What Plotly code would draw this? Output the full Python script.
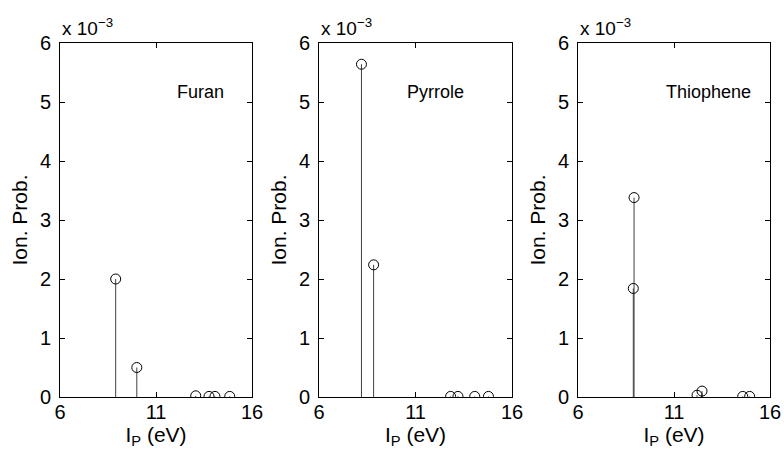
import plotly.graph_objects as go

# Ionization energies (eV) and ionization probabilities (units of 1e-3)
furan_ip = [8.9, 10.0, 13.07, 13.76, 14.07, 14.84]
furan_prob = [2.0, 0.5, 0.02, 0.01, 0.01, 0.01]

pyrrole_ip = [8.2, 8.83, 12.82, 13.2, 14.07, 14.78]
pyrrole_prob = [5.64, 2.24, 0.01, 0.01, 0.01, 0.01]

thiophene_ip = [8.92, 8.88, 12.2, 12.46, 14.58, 14.94]
thiophene_prob = [3.38, 1.84, 0.03, 0.1, 0.01, 0.01]

molecules = ["Furan", "Pyrrole", "Thiophene"]
series = [(furan_ip, furan_prob), (pyrrole_ip, pyrrole_prob), (thiophene_ip, thiophene_prob)]
label_x = [13.3, 12.05, 12.8]
label_y = 5.17

x_ticks = [6, 11, 16]
y_ticks = [0, 1, 2, 3, 4, 5, 6]

FONT = "Liberation Sans, Arial, sans-serif"
W, H = 784, 454
ML, MR, MT, MB = 60, 14, 43, 57
PW = W - ML - MR
# horizontal pixel extents of each panel's plotting box
panel_px = [(60, 252), (319, 512), (578, 770)]

fig = go.Figure()
layout = dict(
    width=W, height=H,
    margin=dict(l=ML, r=MR, t=MT, b=MB, pad=0),
    paper_bgcolor="white", plot_bgcolor="white",
    showlegend=False,
    font=dict(family=FONT, size=18, color="black"),
)

annotations = []
for i, (name, (ip, prob)) in enumerate(zip(molecules, series)):
    n = "" if i == 0 else str(i + 1)
    xa, ya = "x" + n, "y" + n
    # stems from the baseline up to each value
    sx, sy = [], []
    for xv, yv in zip(ip, prob):
        sx += [xv, xv, None]
        sy += [0, yv, None]
    fig.add_trace(go.Scatter(x=sx, y=sy, mode="lines",
                             line=dict(color="#404040", width=1),
                             xaxis=xa, yaxis=ya, hoverinfo="skip"))
    # open circle heads
    fig.add_trace(go.Scatter(x=ip, y=prob, mode="markers",
                             marker=dict(symbol="circle-open", size=10,
                                         color="black", line=dict(width=1)),
                             xaxis=xa, yaxis=ya))
    x0, x1 = panel_px[i]
    axis_common = dict(showline=True, mirror="ticks", linecolor="black", linewidth=1,
                       ticks="inside", ticklen=5, tickcolor="black", tickwidth=1,
                       showgrid=False, zeroline=False, automargin=False,
                       tickfont=dict(family=FONT, size=20, color="black"))
    layout["xaxis" + n] = dict(
        axis_common, domain=[(x0 - ML) / PW, (x1 - ML) / PW], range=[6, 16],
        tickvals=x_ticks, anchor=ya, ticklabelstandoff=-3,
        title=dict(text="I<sub>P</sub> (eV)", standoff=2,
                   font=dict(family=FONT, size=21, color="black")),
    )
    layout["yaxis" + n] = dict(
        axis_common, domain=[0, 1], range=[0, 6],
        tickvals=y_ticks, anchor=xa, ticklabelstandoff=4,
        title=dict(text="Ion. Prob.", standoff=6,
                   font=dict(family=FONT, size=21, color="black")),
    )
    # exponent label above each panel
    annotations.append(dict(
        text="x 10<sup>\u22123</sup>", xref="paper", yref="paper",
        x=(x0 - ML) / PW, y=1.0,
        xanchor="left", yanchor="bottom", yshift=2, showarrow=False,
        font=dict(family=FONT, size=19, color="black"),
    ))
    # molecule name
    annotations.append(dict(
        text=name, xref=xa, yref=ya, x=label_x[i], y=label_y,
        xanchor="center", yanchor="middle", showarrow=False,
        font=dict(family=FONT, size=18, color="black"),
    ))

layout["annotations"] = annotations
fig.update_layout(**layout)
fig.write_html("out.html")
